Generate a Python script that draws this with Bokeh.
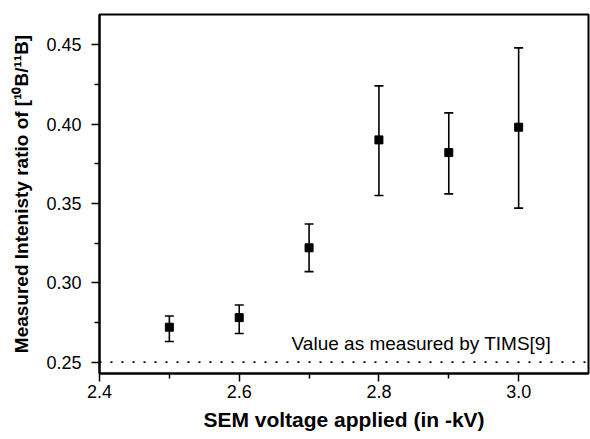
from bokeh.plotting import figure
from bokeh.models import (ColumnDataSource, Whisker, TeeHead, Range1d, FixedTicker,
                          PrintfTickFormatter)
from bokeh.core.properties import value
from bokeh.embed import file_html
from bokeh.resources import INLINE

# Data
voltage = [2.5, 2.6, 2.7, 2.8, 2.9, 3.0]
ratio = [0.272, 0.278, 0.322, 0.390, 0.382, 0.398]
err_upper = [0.279, 0.286, 0.337, 0.424, 0.407, 0.448]
err_lower = [0.263, 0.268, 0.307, 0.355, 0.356, 0.347]
tims_value = 0.25
tims_label = "Value as measured by TIMS[9]"
x_major = [2.4, 2.6, 2.8, 3.0]
x_minor = [2.5, 2.7, 2.9]
y_major = [0.25, 0.30, 0.35, 0.40, 0.45]
y_minor = [0.275, 0.325, 0.375, 0.425]

FONT = "Liberation Sans"

p = figure(width=590, height=439, output_backend="svg", toolbar_location=None,
           x_range=Range1d(2.4, 3.1), y_range=Range1d(0.2428, 0.469),
           min_border_left=99, min_border_right=2, min_border_top=14, min_border_bottom=66)
p.background_fill_color = "white"
p.border_fill_color = "white"
p.outline_line_color = "black"
p.outline_line_width = 2
p.xgrid.visible = False
p.ygrid.visible = False

src = ColumnDataSource(dict(x=voltage, y=ratio, upper=err_upper, lower=err_lower))

w = Whisker(source=src, base="x", upper="upper", lower="lower", line_color="black", line_width=1.6,
            upper_head=TeeHead(size=9, line_color="black", line_width=1.6),
            lower_head=TeeHead(size=9, line_color="black", line_width=1.6))
p.add_layout(w)
p.scatter("x", "y", source=src, marker="square", size=8, color="black")

# TIMS reference line
p.line(x=[2.4, 3.1], y=[tims_value, tims_value], line_color="black", line_width=1.8, line_dash="2 9")
p.text(x=[2.675], y=[0.2615], text=[tims_label], text_font=value(FONT), text_font_size="19px",
       text_baseline="alphabetic", text_align="left", text_color="black")

for ax in (p.xaxis[0], p.yaxis[0]):
    ax.axis_line_width = 2
    ax.axis_line_color = "black"
    ax.major_tick_out = 8
    ax.major_tick_in = 0
    ax.minor_tick_out = 5
    ax.minor_tick_in = 0
    ax.major_tick_line_width = 1.5
    ax.minor_tick_line_width = 1.5
    ax.minor_tick_line_color = "black"
    ax.major_label_text_font = FONT
    ax.major_label_text_font_size = "18px"
    ax.major_label_text_color = "black"
    ax.axis_label_text_font = FONT
    ax.axis_label_text_font_style = "bold"
    ax.axis_label_text_color = "black"

p.xaxis.ticker = FixedTicker(ticks=x_major, minor_ticks=x_minor)
p.yaxis.ticker = FixedTicker(ticks=y_major, minor_ticks=y_minor)
p.xaxis.formatter = PrintfTickFormatter(format="%.1f")
p.yaxis.formatter = PrintfTickFormatter(format="%.2f")
p.xaxis.axis_label = "SEM voltage applied (in -kV)"
p.yaxis.axis_label = "Measured Intenisty ratio of [¹⁰B/¹¹B]"
p.xaxis.axis_label_text_font_size = "21px"
p.yaxis.axis_label_text_font_size = "19px"
p.xaxis.major_label_standoff = 3
p.yaxis.major_label_standoff = 10
p.xaxis.axis_label_standoff = 7
p.yaxis.axis_label_standoff = 11

open("out.html", "w").write(file_html(p, INLINE))
